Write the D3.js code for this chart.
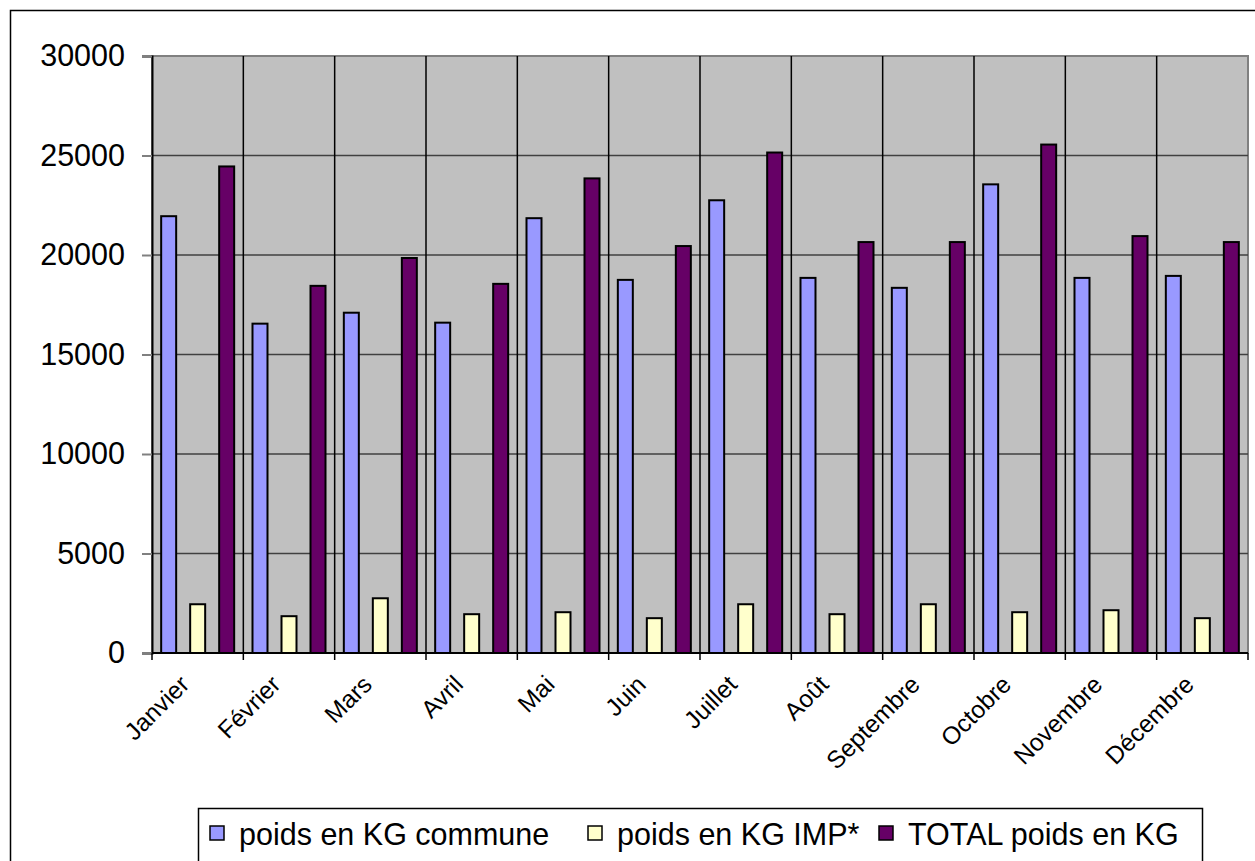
<!DOCTYPE html>
<html>
<head>
<meta charset="utf-8">
<script src="https://cdn.jsdelivr.net/npm/d3@7"></script>
<style>
  body { margin: 0; background: #fff; }
  text { font-family: "Liberation Sans", Arial, sans-serif; fill: #000; }
</style>
</head>
<body>
<div id="chart"></div>
<script>
// months on the x axis
const months = ["Janvier", "Février", "Mars", "Avril", "Mai", "Juin", "Juillet", "Août",
                "Septembre", "Octobre", "Novembre", "Décembre"];
// series names (legend)
const seriesNames = ["poids en KG commune", "poids en KG IMP*", "TOTAL poids en KG"];
// values
const commune = [21950, 16550, 17100, 16600, 21850, 18750, 22750, 18850, 18350, 23550, 18850, 18950];
const imp     = [2450, 1850, 2750, 1950, 2050, 1750, 2450, 1950, 2450, 2050, 2150, 1750];
const total   = [24450, 18450, 19850, 18550, 23850, 20450, 25150, 20650, 20650, 25550, 20950, 20650];
const yTicks  = [0, 5000, 10000, 15000, 20000, 25000, 30000];

const colors = ["#9999FF", "#FFFFCC", "#660066"];

const W = 1255, H = 861;
const plot = {left: 152, right: 1248, top: 56, bottom: 653};

const svg = d3.select("#chart").append("svg")
    .attr("width", W)
    .attr("height", H);

// outer chart border (partly cut off in the original)
svg.append("rect")
    .attr("x", 10.5).attr("y", 10.5)
    .attr("width", W + 20).attr("height", H + 20)
    .attr("fill", "#fff")
    .attr("stroke", "#000").attr("stroke-width", 1.5);

const x0 = d3.scaleBand()
    .domain(months)
    .range([plot.left, plot.right])
    .padding(0);

const x1 = d3.scaleBand()
    .domain(seriesNames)
    .range([0, x0.bandwidth()])
    .paddingInner(0.483)
    .paddingOuter(0.316);

const y = d3.scaleLinear()
    .domain([0, 30000])
    .range([plot.bottom, plot.top]);

// plot background
svg.append("rect")
    .attr("x", plot.left).attr("y", plot.top)
    .attr("width", plot.right - plot.left)
    .attr("height", plot.bottom - plot.top)
    .attr("fill", "#C0C0C0")
    .attr("stroke", "#808080").attr("stroke-width", 2);

// horizontal gridlines
svg.append("g")
  .selectAll("line")
  .data(yTicks.slice(1, -1))
  .join("line")
    .attr("x1", plot.left).attr("x2", plot.right)
    .attr("y1", d => y(d)).attr("y2", d => y(d))
    .attr("stroke", "#404040").attr("stroke-width", 1.5);

// vertical separators between months
svg.append("g")
  .selectAll("line")
  .data(months.slice(1))
  .join("line")
    .attr("x1", d => x0(d)).attr("x2", d => x0(d))
    .attr("y1", plot.top).attr("y2", plot.bottom)
    .attr("stroke", "#000").attr("stroke-width", 1.5);

// bars
const table = months.map((m, i) => ({month: m, values: [commune[i], imp[i], total[i]]}));

svg.append("g")
  .selectAll("g")
  .data(table)
  .join("g")
    .attr("transform", d => `translate(${x0(d.month)},0)`)
  .selectAll("rect")
  .data(d => d.values.map((v, k) => ({key: seriesNames[k], value: v, k: k})))
  .join("rect")
    .attr("x", d => x1(d.key))
    .attr("y", d => y(d.value))
    .attr("width", x1.bandwidth())
    .attr("height", d => y(0) - y(d.value))
    .attr("fill", d => colors[d.k])
    .attr("stroke", "#000").attr("stroke-width", 2);

// y axis
const yAxis = svg.append("g")
    .attr("transform", `translate(${plot.left},0)`)
    .call(d3.axisLeft(y).tickValues(yTicks).tickSize(10).tickPadding(17).tickFormat(d3.format("d")));
yAxis.select(".domain").attr("stroke", "#000").attr("stroke-width", 2);
yAxis.selectAll(".tick line").attr("stroke", "#808080").attr("stroke-width", 2);
yAxis.selectAll("text")
    .style("font-size", "30.5px")
    .attr("font-family", null);

// x axis line and ticks at month boundaries
svg.append("line")
    .attr("x1", plot.left).attr("x2", plot.right)
    .attr("y1", plot.bottom).attr("y2", plot.bottom)
    .attr("stroke", "#000").attr("stroke-width", 2);

svg.append("g")
  .selectAll("line")
  .data(months.concat(["end"]))
  .join("line")
    .attr("x1", (d, i) => i < months.length ? x0(d) : plot.right)
    .attr("x2", (d, i) => i < months.length ? x0(d) : plot.right)
    .attr("y1", plot.bottom).attr("y2", plot.bottom + 7)
    .attr("stroke", "#000").attr("stroke-width", 1.5);

// rotated month labels
svg.append("g")
  .selectAll("text")
  .data(months)
  .join("text")
    .attr("transform", d => `translate(${x0(d) + x0.bandwidth() / 2 - 7},${plot.bottom + 33}) rotate(-45)`)
    .attr("text-anchor", "end")
    .style("font-size", "24.5px")
    .text(d => d);

// legend
const legend = svg.append("g");
legend.append("rect")
    .attr("x", 198.5).attr("y", 808.5)
    .attr("width", 1004).attr("height", 70)
    .attr("fill", "#fff")
    .attr("stroke", "#000").attr("stroke-width", 1.5);

const legendX = [210, 588, 879];
seriesNames.forEach((name, k) => {
  legend.append("rect")
      .attr("x", legendX[k]).attr("y", 826)
      .attr("width", 14).attr("height", 14)
      .attr("fill", colors[k])
      .attr("stroke", "#000").attr("stroke-width", 1.5);
  legend.append("text")
      .attr("x", legendX[k] + 29).attr("y", 845)
      .style("font-size", "30.5px")
      .text(name);
});
</script>
</body>
</html>
